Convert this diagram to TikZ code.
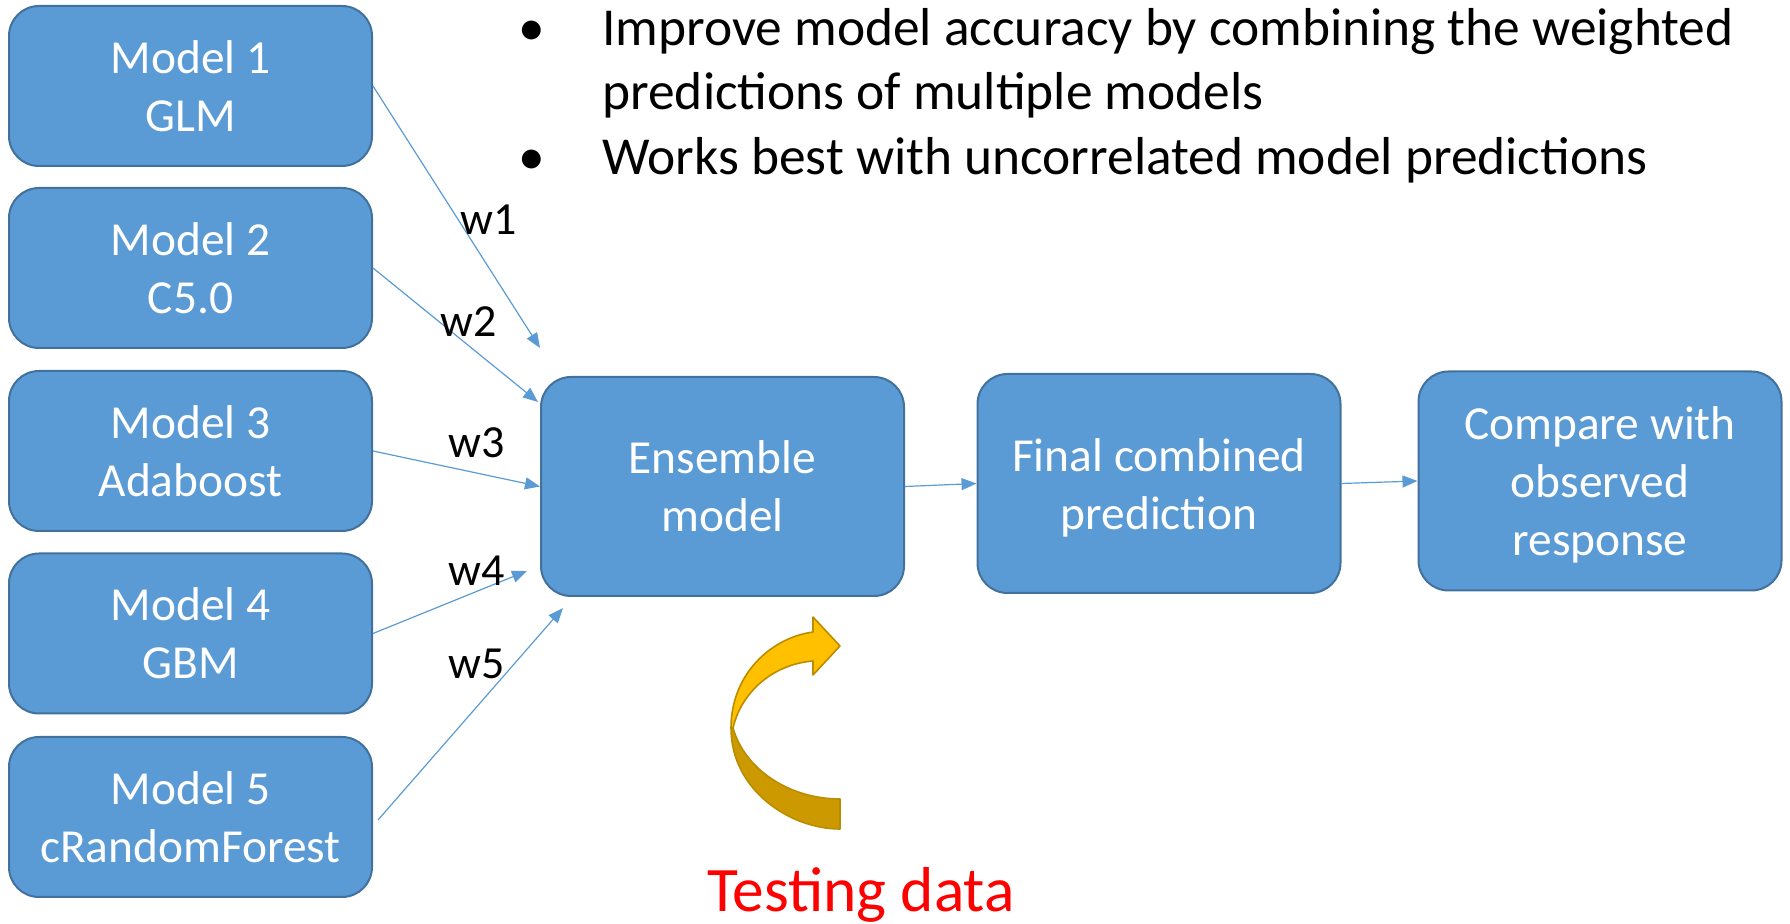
\documentclass[tikz,border=0pt]{standalone}
\usepackage{fontspec}
\setmainfont{Carlito}
\usetikzlibrary{arrows.meta,calc}
\definecolor{boxfill}{HTML}{5B9BD5}
\definecolor{boxline}{HTML}{41719C}
\definecolor{gold}{HTML}{FFC000}
\definecolor{golddark}{HTML}{CC9A00}
\definecolor{goldline}{HTML}{BC8C00}
\begin{document}
\begin{tikzpicture}[x=0.5pt,y=-0.5pt,
  box/.style={draw=boxline, line width=1pt, fill=boxfill, rounded corners=15pt, text=white, align=center,
    font=\fontsize{23.7}{29}\selectfont, minimum width=181.5pt, minimum height=80pt, inner sep=0pt},
  bigbox/.style={box, minimum height=109.5pt},
  conn/.style={draw=boxfill, line width=0.6pt, -{Triangle[length=7.5pt,width=6pt]}},
  wlab/.style={font=\fontsize{23}{27}\selectfont, inner sep=0pt},
  bul/.style={font=\fontsize{26.7}{32}\selectfont, inner sep=0pt},
  ribbonup/.style={fill=gold, draw=goldline, line width=0.8pt, line join=round},
  ribbondown/.style={fill=golddark, draw=goldline, line width=0.8pt, line join=round}]
\useasboundingbox (0,0) rectangle (1790,924);

% model boxes
\node[box] (m1) at (190.5,86) {Model 1\\GLM};
\node[box] (m2) at (190.5,268) {Model 2\\C5.0};
\node[box] (m3) at (190.5,451) {Model 3\\Adaboost};
\node[box] (m4) at (190.5,633.5) {Model 4\\GBM};
\node[box] (m5) at (190.5,817) {Model 5\\cRandomForest};

% main flow
\node[bigbox] (ens) at (722.5,486.5) {Ensemble\\model};
\node[bigbox] (fin) at (1159,483.5) {\raisebox{-2pt}[\height][\depth]{\parbox{170pt}{\centering Final combined\\prediction}}};
\node[bigbox] (cmp) at (1600,481) {\raisebox{-2pt}[\height][\depth]{\parbox{170pt}{\centering Compare with\\observed\\response}}};

% free arrow ends
\coordinate (e1) at (540,348);
\coordinate (e2) at (538,402);
\coordinate (e4) at (527,571);
\coordinate (e5) at (563,608);
\coordinate (s5) at (378,820);

\draw[conn] (m1.east) -- (e1);
\draw[conn] (m2.east) -- (e2);
\draw[conn] (m3.east) -- (ens.west);
\draw[conn] (m4.east) -- (e4);
\draw[conn] (s5) -- (e5);

\draw[conn] (ens.east) -- (fin.west);
\draw[conn] (fin.east) -- (cmp.west);

% weights
\node[wlab] (w1) at (489,220) {w1};
\node[wlab] (w2) at (469,322) {w2};
\node[wlab] (w3) at (477,443) {w3};
\node[wlab] (w4) at (477,571) {w4};
\node[wlab] (w5) at (477,664) {w5};

% bullets
\node[bul, anchor=base] (b1) at (532,46) {•};
\node[bul, anchor=base west] (t1) at (602,46) {Improve model accuracy by combining the weighted};
\node[bul, anchor=base west] (t2) at (602,110) {predictions of multiple models};
\node[bul, anchor=base] (b2) at (532,175) {•};
\node[bul, anchor=base west] (t3) at (602,175) {Works best with uncorrelated model predictions};

% curved arrow
\path[ribbondown] (731,728) .. controls (731,790) and (790,829) .. (840,829)
  -- (840,799) .. controls (790,799) and (745,770) .. (733,728) -- cycle;
\path[ribbonup] (731,728) .. controls (731,675) and (770,638) .. (813,632)
  -- (813,617) -- (840,646) -- (813,675) -- (813,661)
  .. controls (775,664) and (742,690) .. (733,728) -- cycle;

\node[font=\fontsize{31.7}{37}\selectfont, text={rgb,255:red,255;green,0;blue,0}, inner sep=0pt] (td) at (861,895) {Testing data};
\end{tikzpicture}
\end{document}
